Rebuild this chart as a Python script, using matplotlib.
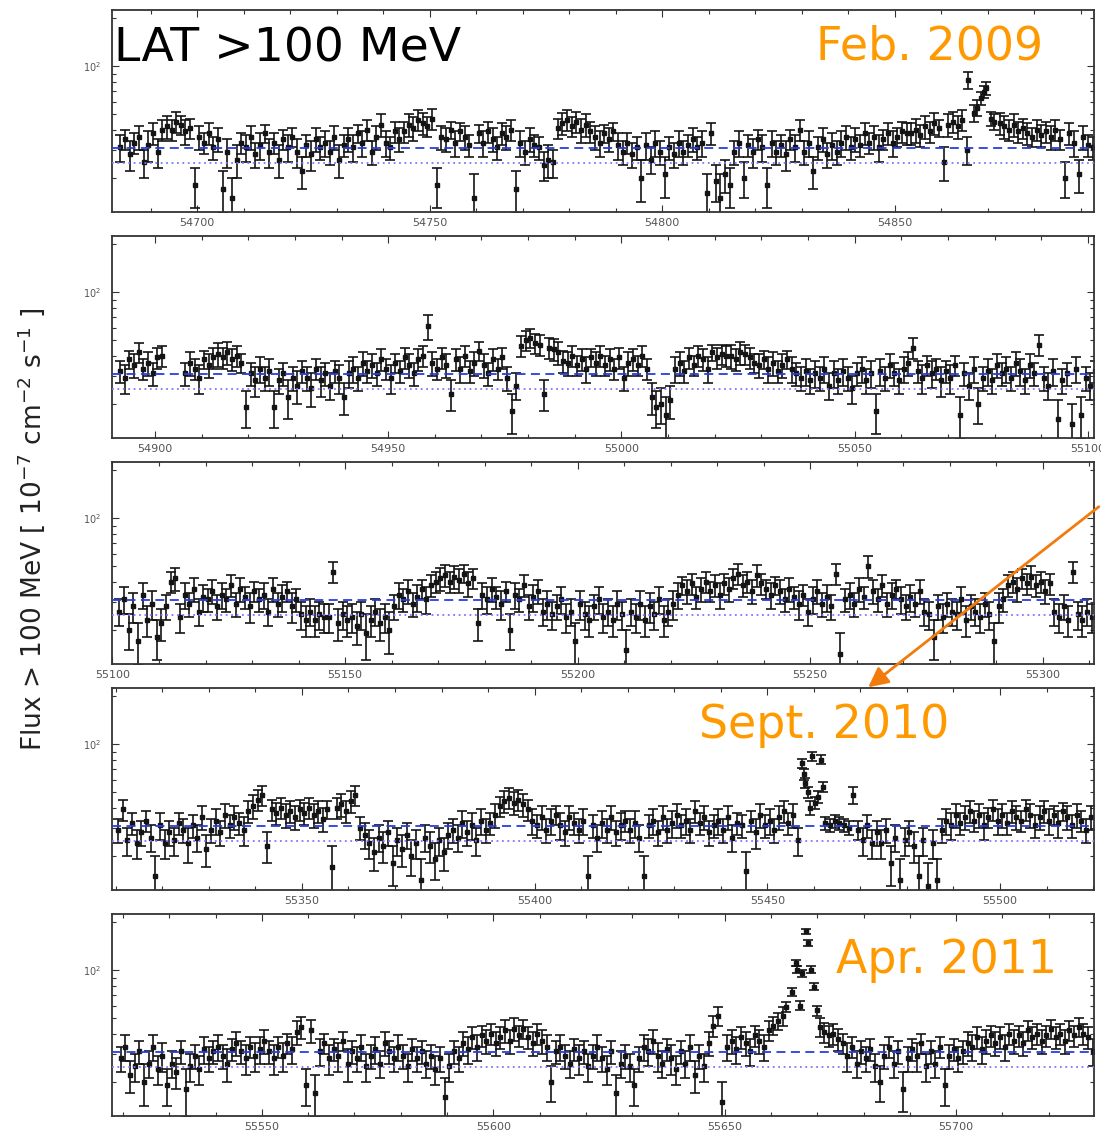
import numpy as np
import matplotlib
matplotlib.use("Agg")
import matplotlib.pyplot as plt
from matplotlib.ticker import MultipleLocator, FixedLocator, FixedFormatter, NullFormatter
from matplotlib.patches import FancyArrowPatch

N = None  # no data in that bin

# errors are written one hex digit per daily bin (units of 1e-7 cm-2 s-1)

# ---- panel 1 : daily bins starting MJD 54683 ----
start1 = 54683
flux1 = [31, 35, 28, 33, 36, 25, 32, 38, 29, 40,
         42, 40, 45, 43, 39, 41, 18, 36, 33, 38,
         31, 35, 17, 29, 15, 26, 33, 31, 36, 28,
         32, 38, 29, 33, 26, 35, 31, 36, 29, 22,
         32, 28, 35, 31, 33, 29, 36, 26, 32, 35,
         31, 38, 33, 40, 29, 36, 43, 33, 31, 39,
         35, 39, 43, 41, 46, 44, 42, 47, 18, 36,
         35, 40, 33, 39, 36, 32, 15, 38, 33, 39,
         35, 31, 38, 36, 40, 17, 33, 29, 35, 32,
         31, 24, 26, 25, 41, 44, 46, 42, 45, 40,
         43, 39, 36, 33, 38, 35, 39, 32, 29, 33,
         28, 31, 20, 32, 26, 33, 29, 21, 31, 28,
         33, 29, 32, 35, 31, 33, 16, 38, 19, 15,
         21, 18, 29, 33, 20, 32, 29, 35, 31, 18,
         33, 29, 32, 28, 35, 31, 40, 29, 33, 22,
         31, 35, 28, 32, 29, 33, 36, 31, 35, 32,
         38, 33, 36, 31, 35, 38, 33, 36, 39, 38,
         38, 40, 37, 42, 39, 44, 41, 25, 43, 45,
         42, 46, 30, N, N, N, N, N, N, 44,
         42, 40, 43, 39, 41, 38, 36, 40, 37, 39,
         36, 40, 35, 20, 38, 33, 21, 36, 32, 31]
err1 = ("6565657666" "7676765656" "5656565665" "6565656565" "5665656656"
        "6566567656" "6677776756" "6565656566" "6566656565" "5565677677"
        "7666565655" "5566565655" "6556565656" "5556556565" "6556566565"
        "5656566565" "6566566566" "6767675677" "7765555557" "7676665666"
        "6655665655")
flare_t1 = [54865.8, 54867.0, 54867.7, 54868.5, 54869.2, 54869.6, 54870.6, 54871.2]
flare_f1 = [82, 51, 55, 63, 69, 73, 47, 45]
flare_e1 = [10, 6, 6, 6, 6, 7, 5, 5]

# ---- panel 2 ----
start2 = 54892
flux2 = [32, 29, 38, 35, 42, 33, 36, 31, 39, 40,
         N, N, N, N, 31, 36, 33, 29, 38, 35,
         39, 41, 39, 42, 38, 40, 36, 19, 31, 28,
         33, 29, 32, 19, 28, 31, 22, 29, 26, 32,
         29, 25, 33, 28, 31, 26, 32, 29, 22, 31,
         33, 29, 36, 32, 35, 31, 38, 33, 29, 36,
         32, 39, 35, 31, 38, 40, 61, 36, 33, 39,
         35, 23, 38, 33, 40, 32, 36, 43, 35, 31,
         38, 33, 39, 29, 18, 26, 46, 50, 52, 48,
         47, 23, 45, 44, 42, 37, 36, 40, 35, 38,
         33, 39, 36, 40, 35, 38, 33, 39, 29, 36,
         38, 35, 40, 33, 22, 19, 20, 17, 21, 33,
         36, 32, 39, 35, 40, 38, 33, 42, 39, 41,
         40, 40, 38, 42, 41, 39, 36, 35, 38, 33,
         36, 32, 35, 38, 33, 31, 29, 32, 28, 31,
         29, 33, 26, 31, 28, 32, 29, 25, 31, 33,
         28, 31, 18, 32, 29, 35, 31, 28, 33, 36,
         45, 32, 29, 35, 31, 33, 28, 32, 29, 35,
         17, 31, 26, 33, 20, 29, 32, 28, 35, 31,
         33, 29, 36, 32, 28, 35, 31, 47, 29, 26,
         32, 16, 28, 31, 15, 33, 17, 29, 26, 32]
err2 = ("5656656566" "5555565656" "6767665556" "6565556565" "5656555656"
        "6565656565" "566566b656" "6566656665" "6565557777" "7577766656"
        "6566565656" "6565555556" "6565666566" "6767665656" "6565655656"
        "5656565556" "5656565566" "7565656565" "5556556565" "6566565755"
        "6555565555")
flare_t2, flare_f2, flare_e2 = [], [], []

# ---- panel 3 ----
start3 = 55101
flux3 = [26, 31, 20, 28, 17, 33, 23, 29, 18, 22,
         28, 40, 42, 24, 33, 29, 36, 26, 32, 31,
         35, 28, 33, 31, 38, 29, 36, 32, 28, 35,
         31, 33, 26, 36, 29, 32, 35, 28, 31, 25,
         23, 26, 23, 25, 24, 24, 46, 22, 25, 23,
         24, 21, 25, 19, 23, 26, 22, 24, 20, 28,
         33, 31, 35, 29, 32, 36, 31, 38, 40, 42,
         44, 40, 43, 41, 45, 39, 42, 22, 33, 31,
         36, 32, 29, 35, 20, 33, 31, 38, 28, 32,
         35, 26, 29, 25, 28, 31, 24, 26, 17, 29,
         25, 23, 28, 31, 24, 26, 23, 29, 25, 15,
         26, 24, 29, 23, 28, 25, 31, 23, 26, 29,
         33, 38, 35, 39, 32, 36, 40, 35, 38, 33,
         39, 36, 42, 45, 38, 40, 35, 44, 39, 36,
         33, 38, 35, 31, 36, 32, 29, 33, 26, 31,
         35, 29, 32, 28, 45, 14, 31, 33, 29, 36,
         32, 50, 35, 31, 38, 29, 33, 36, 31, 28,
         32, 29, 35, 26, 25, 18, 28, 24, 29, 26,
         25, 31, 23, 28, 26, 24, 29, 25, 17, 28,
         31, 38, 40, 36, 42, 39, 43, 38, 40, 35,
         39, 26, 24, 28, 23, 46, 25, 23, 26, 24]
err3 = ("5656565655" "5675656565" "6565656565" "5656565655" "5555557555"
        "5556555565" "6565656667" "7677676566" "6565565656" "6565565556"
        "5556555655" "5565656556" "6566566566" "6667666765" "6565656556"
        "6565755656" "5865656565" "6565555555" "5655555556" "5666667666"
        "6555575555")
flare_t3, flare_f3, flare_e3 = [], [], []

# ---- panel 4 ----
start4 = 55310
flux4 = [29, 39, 25, 32, 24, 28, 33, 26, 15, 31,
         24, 28, 25, 32, 29, 24, 31, 26, 35, 22,
         29, 33, 28, 36, 31, 35, 32, 29, 38, 41,
         45, 48, 23, 39, 37, 40, 36, 38, 35, 39,
         37, 40, 36, 38, 34, 39, 17, 40, 42, 38,
         44, 48, 30, 27, 24, 21, 26, 23, 28, 18,
         25, 22, 27, 20, 24, 14, 26, 23, 19, 25,
         21, 27, 29, 26, 32, 28, 31, 25, 33, 29,
         32, 36, 41, 44, 46, 43, 45, 42, 39, 33,
         31, 35, 29, 33, 36, 31, 28, 35, 32, 29,
         33, 15, 31, 26, 32, 29, 35, 28, 31, 33,
         29, 32, 26, 15, 31, 33, 28, 35, 29, 32,
         36, 31, 33, 29, 38, 32, 35, 28, 31, 33,
         29, 35, 26, 32, 31, 16, 33, 28, 36, 31,
         33, 29, 35, 38, 32, 36, 25, N, N, N,
         N, N, 32, 31, 33, 32, 31, 30, 48, 29,
         25, 31, 24, 28, 24, 29, 18, 26, 14, 25,
         28, 23, 15, 25, 13, 24, 14, 29, 33, 31,
         36, 32, 35, 38, 33, 36, 31, 35, 39, 33,
         36, 32, 38, 35, 33, 39, 36, 31, 35, 38,
         33, 36, 32, 38, 35, 31, 36, 33, 29, 35]
err4 = ("5655555556" "5555565565" "5656565667" "7756666666" "6666656676"
        "7755555555" "5555555555" "5555656565" "5667777766" "5656565655"
        "6555656565" "5655565656" "6565656556" "5655555665" "6566565555"
        "4433333364" "5555555555" "5555555566" "6566566566" "6566566566"
        "6565656556")
flare_t4 = [55457.4, 55457.8, 55458.2, 55458.7, 55459.2, 55459.7, 55460.3, 55460.9, 55461.6, 55462.0]
flare_f4 = [76, 65, 57, 50, 40, 84, 43, 47, 80, 54]
flare_e4 = [5, 5, 4, 4, 4, 5, 4, 4, 5, 4]

# ---- panel 5 ----
start5 = 55519
flux5 = [28, 33, 22, 25, 31, 20, 26, 33, 24, 29,
         19, 26, 23, 31, 18, 25, 29, 24, 32, 28,
         31, 33, 29, 26, 32, 35, 31, 28, 33, 29,
         32, 36, 31, 28, 33, 29, 35, 32, 41, 44,
         19, 42, 17, 31, 35, 28, 32, 29, 36, 26,
         31, 28, 33, 25, 29, 32, 26, 35, 31, 28,
         33, 29, 25, 32, 28, 31, 26, 29, 24, 28,
         16, 25, 31, 28, 35, 32, 38, 33, 39, 36,
         40, 35, 38, 42, 36, 43, 39, 43, 38, 35,
         40, 36, 33, 20, 31, 33, 29, 26, 32, 28,
         31, 25, 29, 33, 28, 24, 31, 17, 26, 29,
         25, 19, 28, 33, 31, 36, 29, 26, 32, 28,
         24, 31, 26, 33, 22, 29, 25, 35, 45, 52,
         15, 33, 36, 32, 38, 35, 31, 39, 36, 33,
         42, 45, 48, 52, N, N, N, N, N, N,
         N, 44, 41, 39, 40, 37, 35, 29, 33, 26,
         31, 28, 32, 25, 20, 29, 33, 26, 31, 18,
         28, 32, 29, 35, 25, 31, 26, 33, 19, 29,
         32, 28, 31, 35, 33, 38, 32, 36, 39, 35,
         38, 33, 40, 36, 39, 35, 42, 38, 40, 36,
         39, 43, 38, 40, 36, 42, 39, 44, 40, 38,
         31]
err5 = ("5655565656" "5555655565" "5656565656" "6656565677" "5756565656"
        "5565565655" "6555555555" "5555666666" "6667676666" "6665565556"
        "5556555555" "5556666556" "5556555677" "5666666666" "6667555555"
        "5666665655" "5555555555" "5565555555" "5556666666" "6666666666"
        "6666666666" "6")
flare_t5 = [55663.2, 55664.6, 55665.3, 55665.7, 55666.2, 55666.8, 55667.5, 55667.9, 55668.6, 55669.2, 55669.9]
flare_f5 = [59, 73, 111, 101, 60, 96, 175, 148, 101, 79, 56]
flare_e5 = [4, 4, 5, 5, 4, 5, 7, 6, 5, 4, 4]

xlims = [(54681.7, 54892.8), (54890.8, 55101.3), (55099.9, 55311.0),
         (55309.2, 55520.2), (55517.6, 55729.8)]
ylim = (12.2, 225)
avg_level = 30.5     # blue dashed
low_level = 24.7     # blue dotted

panels = [(start1, flux1, err1, flare_t1, flare_f1, flare_e1),
          (start2, flux2, err2, flare_t2, flare_f2, flare_e2),
          (start3, flux3, err3, flare_t3, flare_f3, flare_e3),
          (start4, flux4, err4, flare_t4, flare_f4, flare_e4),
          (start5, flux5, err5, flare_t5, flare_f5, flare_e5)]

W, H = 1101, 1136
fig = plt.figure(figsize=(W / 100, H / 100), dpi=100)

style = dict(fmt='s', ms=3.2, color='#141414', ecolor='#141414',
             elinewidth=1.2, capsize=3.3, capthick=1.2, zorder=2)

left, right = 112, 1094
for k, (st, fl, er, ft, ff, fe) in enumerate(panels):
    top = 10 + 226 * k
    ax = fig.add_axes([left / W, 1 - (top + 202) / H, (right - left) / W, 202 / H])
    f = np.array(fl, dtype=float)
    e = np.array([int(c, 16) for c in er], dtype=float)
    t = st + np.arange(len(f)) + 0.5
    ax.errorbar(t, f, yerr=e, **style)
    if ft:
        ax.errorbar(ft, ff, yerr=fe, **style)
    ax.axhline(avg_level, color='#2b3be0', ls=(0, (5, 3)), lw=1.3, zorder=3)
    ax.axhline(low_level, color='#7a7aff', ls=(0, (1, 2)), lw=1.3, zorder=3)

    ax.set_yscale('log')
    ax.set_ylim(*ylim)
    ax.set_xlim(*xlims[k])
    ax.yaxis.set_major_locator(FixedLocator([100]))
    ax.yaxis.set_major_formatter(FixedFormatter([r'$10^{2}$']))
    ax.yaxis.set_minor_locator(FixedLocator([20, 30, 40, 50, 60, 70, 80, 90, 200]))
    ax.yaxis.set_minor_formatter(NullFormatter())
    ax.xaxis.set_major_locator(MultipleLocator(50))
    ax.xaxis.set_minor_locator(MultipleLocator(10))
    ax.tick_params(which='both', direction='in', top=True, right=True,
                   color='#333333', width=0.8)
    ax.tick_params(which='major', length=5)
    ax.tick_params(which='minor', length=3)
    ax.tick_params(axis='x', labelsize=8, labelcolor='#555555', pad=4)
    ax.tick_params(axis='y', labelsize=7, labelcolor='#555555', pad=8)
    for s in ax.spines.values():
        s.set_linewidth(1.3)
        s.set_color('#333333')

fig.text(0.028, 0.534, r'Flux > 100 MeV [ 10$^{-7}$ cm$^{-2}$ s$^{-1}$ ]',
         rotation=90, ha='center', va='center', fontsize=19, color='#222222')

fig.text(113.5 / W, 1 - 62 / H, 'LAT >100 MeV', fontsize=34, color='black', va='baseline')
orange = '#ff9900'
fig.text(815.5 / W, 1 - 60 / H, 'Feb. 2009', fontsize=33, color=orange, va='baseline')
fig.text(699 / W, 1 - 738 / H, 'Sept. 2010', fontsize=33, color=orange, va='baseline')
fig.text(835.5 / W, 1 - 973 / H, 'Apr. 2011', fontsize=33, color=orange, va='baseline')

arrow = FancyArrowPatch(posA=(1.0, 1 - 505 / H), posB=(866 / W, 1 - 689 / H),
                        transform=fig.transFigure, arrowstyle='-|>,head_length=0.6,head_width=0.3',
                        mutation_scale=20, color='#f27b0c', lw=2.0)
fig.add_artist(arrow)

fig.savefig('out.png', dpi=100)
